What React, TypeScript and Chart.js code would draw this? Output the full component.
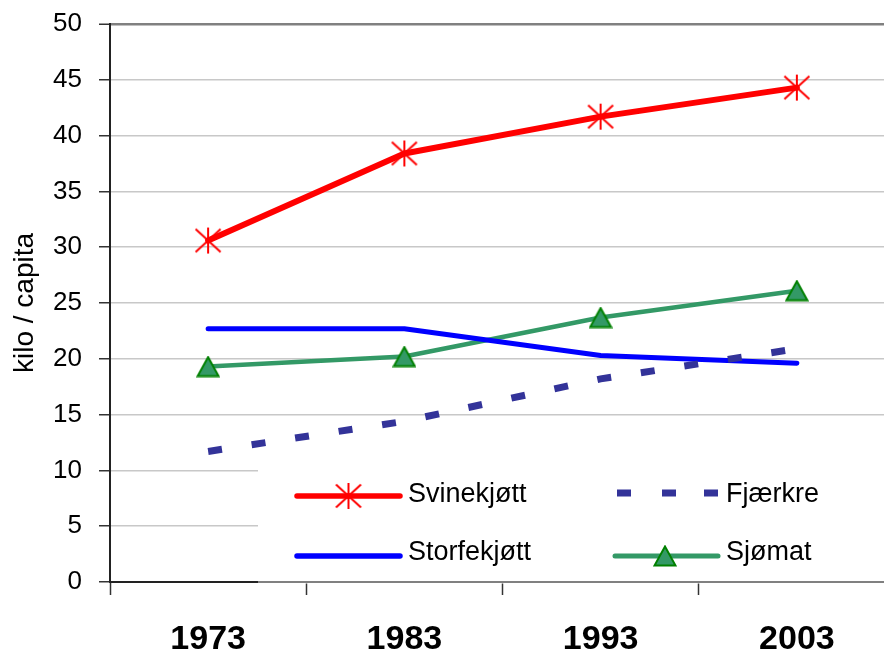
import React, { useEffect, useRef } from "react";
import { Chart, registerables } from "chart.js";

Chart.register(...registerables);

const years = ["1973", "1983", "1993", "2003"];
const svinekjott = [30.6, 38.4, 41.7, 44.3];
const fjaerkre = [11.7, 14.4, 18.2, 20.9];
const storfekjott = [22.7, 22.7, 20.3, 19.6];
const sjomat = [19.3, 20.2, 23.7, 26.1];
const seriesNames = ["Svinekjøtt", "Fjærkre", "Storfekjøtt", "Sjømat"];
const yTitle = "kilo / capita";
const yMin = 0;
const yMax = 50;
const yStep = 5;

const FONT = "'Liberation Sans', Arial, Helvetica, sans-serif";
const RED = "#FF0000";
const NAVY = "#333399";
const BLUE = "#0000FF";
const GREEN = "#339966";

function makeStar(): HTMLCanvasElement {
  const c = document.createElement("canvas");
  c.width = 28;
  c.height = 28;
  const g = c.getContext("2d")!;
  g.strokeStyle = RED;
  g.lineWidth = 2;
  g.beginPath();
  g.moveTo(14, 1);
  g.lineTo(14, 27);
  g.moveTo(1.5, 2.5);
  g.lineTo(26.5, 25.5);
  g.moveTo(26.5, 2.5);
  g.lineTo(1.5, 25.5);
  g.stroke();
  return c;
}

function makeTriangle(): HTMLCanvasElement {
  const c = document.createElement("canvas");
  c.width = 24;
  c.height = 22;
  const g = c.getContext("2d")!;
  g.beginPath();
  g.moveTo(12, 1.5);
  g.lineTo(22.5, 20.5);
  g.lineTo(1.5, 20.5);
  g.closePath();
  g.fillStyle = GREEN;
  g.fill();
  g.strokeStyle = "#008000";
  g.lineWidth = 2;
  g.stroke();
  return c;
}

function zeroPadding(s: any) {
  s.paddingTop = 0;
  s.paddingBottom = 0;
  s.paddingLeft = 0;
  s.paddingRight = 0;
}

export default function App() {
  const ref = useRef<HTMLCanvasElement | null>(null);

  useEffect(() => {
    const canvas = ref.current;
    if (!canvas) return;
    const star = makeStar();
    const tri = makeTriangle();

    const legendPlugin = {
      id: "customLegend",
      afterDraw(chart: any) {
        const ctx = chart.ctx as CanvasRenderingContext2D;
        const { left, right, bottom } = chart.chartArea;
        const boxX = left + 148;
        const boxY = bottom - 124;
        ctx.save();
        ctx.fillStyle = "#ffffff";
        ctx.fillRect(boxX, boxY, right - boxX, bottom - boxY + 1.5);
        ctx.strokeStyle = "#808080";
        ctx.lineWidth = 2;
        ctx.beginPath();
        ctx.moveTo(boxX, bottom);
        ctx.lineTo(right, bottom);
        ctx.stroke();

        const col1 = left + 187;
        const col2 = left + 505;
        const row1 = bottom - 86;
        const row2 = bottom - 26;
        const lineLen = 103;

        // Svinekjøtt
        ctx.strokeStyle = RED;
        ctx.lineWidth = 5.5;
        ctx.lineCap = "round";
        ctx.beginPath();
        ctx.moveTo(col1, row1);
        ctx.lineTo(col1 + lineLen, row1);
        ctx.stroke();
        ctx.drawImage(star, col1 + lineLen / 2 - star.width / 2, row1 - star.height / 2);

        // Storfekjøtt
        ctx.strokeStyle = BLUE;
        ctx.lineWidth = 5.5;
        ctx.beginPath();
        ctx.moveTo(col1, row2);
        ctx.lineTo(col1 + lineLen, row2);
        ctx.stroke();

        // Fjærkre
        ctx.fillStyle = NAVY;
        const dashStarts = [0, 45, 87];
        dashStarts.forEach((d) => ctx.fillRect(col2 + 2 + d, row1 - 3 - 3.5, 14, 7));

        // Sjømat
        ctx.strokeStyle = GREEN;
        ctx.lineWidth = 5;
        ctx.beginPath();
        ctx.moveTo(col2, row2);
        ctx.lineTo(col2 + lineLen, row2);
        ctx.stroke();
        ctx.drawImage(tri, col2 + 50 - tri.width / 2, row2 - tri.height / 2);

        ctx.fillStyle = "#000";
        ctx.font = `27px ${FONT}`;
        ctx.textBaseline = "middle";
        ctx.textAlign = "left";
        ctx.fillText(seriesNames[0], col1 + 111, row1 - 1);
        ctx.fillText(seriesNames[2], col1 + 111, row2 - 3);
        ctx.fillText(seriesNames[1], col2 + 111, row1 - 1);
        ctx.fillText(seriesNames[3], col2 + 111, row2 - 3);
        ctx.restore();
      },
    };

    const chart = new Chart(canvas, {
      type: "line",
      data: {
        labels: years,
        datasets: [
          {
            label: seriesNames[0],
            data: svinekjott,
            borderColor: RED,
            backgroundColor: RED,
            borderWidth: 6,
            borderCapStyle: "round",
            borderJoinStyle: "round",
            pointStyle: star as any,
            pointRadius: 12,
            tension: 0,
            fill: false,
          },
          {
            label: seriesNames[1],
            data: fjaerkre,
            borderColor: NAVY,
            backgroundColor: NAVY,
            borderWidth: 7,
            borderDash: [14, 30],
            borderCapStyle: "butt",
            pointRadius: 0,
            tension: 0,
            fill: false,
          },
          {
            label: seriesNames[2],
            data: storfekjott,
            borderColor: BLUE,
            backgroundColor: BLUE,
            borderWidth: 5,
            borderCapStyle: "round",
            borderJoinStyle: "round",
            pointRadius: 0,
            tension: 0,
            fill: false,
          },
          {
            label: seriesNames[3],
            data: sjomat,
            borderColor: GREEN,
            backgroundColor: GREEN,
            borderWidth: 4.5,
            borderCapStyle: "round",
            borderJoinStyle: "round",
            pointStyle: tri as any,
            pointRadius: 11,
            tension: 0,
            fill: false,
          },
        ],
      },
      options: {
        responsive: false,
        animation: false,
        layout: { padding: { top: 24, left: 0, right: 0, bottom: 0 } },
        plugins: {
          legend: { display: false },
          tooltip: { enabled: false },
        },
        scales: {
          x: {
            type: "category",
            offset: true,
            grid: {
              offset: true,
              drawOnChartArea: false,
              drawTicks: true,
              tickLength: 13,
              tickColor: "#333",
              tickWidth: 1.5,
            },
            border: { display: true, color: "#222", width: 2 },
            ticks: {
              color: "#000",
              font: { family: FONT, size: 34, weight: "bold" },
              padding: 24,
              maxRotation: 0,
              autoSkip: false,
            },
            afterFit: (s: any) => {
              s.height = 77;
              zeroPadding(s);
            },
          },
          y: {
            min: yMin,
            max: yMax,
            ticks: {
              stepSize: yStep,
              color: "#000",
              font: { family: FONT, size: 26 },
              padding: 17,
            },
            grid: {
              color: (c: any) => (c.tick && c.tick.value === yMax ? "#808080" : "#c8c8c8"),
              lineWidth: (c: any) => (c.tick && c.tick.value === yMax ? 2.5 : 1.5),
              tickLength: 11,
              tickColor: "#333",
              tickWidth: 1.5,
            },
            border: { display: true, color: "#222", width: 2 },
            title: {
              display: true,
              text: yTitle,
              color: "#000",
              font: { family: FONT, size: 28 },
              padding: { top: 8, bottom: 0 },
            },
            afterFit: (s: any) => {
              s.width = 110;
              zeroPadding(s);
            },
          },
        },
      } as any,
      plugins: [legendPlugin],
    });

    return () => {
      chart.destroy();
    };
  }, []);

  return (
    <div
      style={{
        position: "fixed",
        left: 0,
        top: 0,
        width: 884,
        height: 659,
        overflow: "hidden",
        background: "#fff",
      }}
    >
      <canvas ref={ref} width={913} height={659} style={{ display: "block" }} />
    </div>
  );
}
